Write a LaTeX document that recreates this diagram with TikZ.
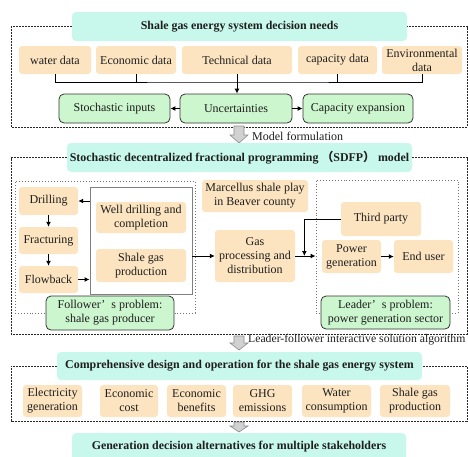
\documentclass[tikz,border=0pt]{standalone}
\usepackage{fontspec}
\setmainfont{Liberation Serif}
\newfontfamily\cjk{Noto Sans CJK SC}
\usetikzlibrary{arrows.meta,calc}
\definecolor{headfill}{RGB}{200,248,236}
\definecolor{orfill}{RGB}{252,228,192}
\definecolor{grfill}{RGB}{204,246,206}
\definecolor{txt}{RGB}{30,30,30}
\tikzset{
  base/.style={inner sep=0pt, align=center, text=txt, font=\fontsize{12}{14}\selectfont},
  headbox/.style={base, fill=headfill, rounded corners=4pt, font=\fontsize{11.9}{14}\selectfont\bfseries},
  orbox/.style={base, fill=orfill, rounded corners=3pt},
  grbox/.style={base, fill=grfill, draw=black!80, line width=0.8pt, rounded corners=5pt},
  frame/.style={draw=black!85, line width=1pt, dash pattern=on 2pt off 1pt},
  dotframe/.style={draw=black!55, line width=0.9pt, dotted},
  conn/.style={draw=black, line width=1pt},
  arr/.style={conn, -{Latex[length=5pt,width=5pt]}},
  bigarrow/.style={fill=black!18, draw=black!45, line width=0.6pt},
}
\newcommand{\mybox}[7]{\node[#2, minimum width={#5-#3}, minimum height={#6-#4}] (#1) at ({(#3+#5)/2},{(#4+#6)/2}) {#7};}
\newcommand{\bigdown}[4]{\filldraw[bigarrow] ({#1-5},#2) -- ({#1+5},#2) -- ({#1+5},{#3-#4}) -- ({#1+9},{#3-#4}) -- (#1,#3) -- ({#1-9},{#3-#4}) -- ({#1-5},{#3-#4}) -- cycle;}
\begin{document}
\begin{tikzpicture}[x=1pt,y=-1pt]
\useasboundingbox (0,0) rectangle (468,456);
% ---------- section 1
\mybox{head1}{headbox}{72}{12}{407}{41}{Shale gas energy system decision needs}
\draw[frame] (head1.west) -- (11,26.5) |- (467,127) |- (head1.east);
\mybox{water}{orbox}{19}{46}{91}{74}{water data}
\mybox{econ}{orbox}{96}{46}{176}{74}{Economic data}
\mybox{tech}{orbox}{182}{46}{292}{74}{Technical data}
\mybox{capd}{orbox}{298}{46}{377}{74}{capacity data}
\mybox{env}{orbox}{382}{46}{462}{74}{Environmental\\data}
\mybox{stoch}{grbox}{59}{94}{170}{123}{Stochastic inputs}
\mybox{unc}{grbox}{180}{94}{292}{123}{Uncertainties}
\mybox{capx}{grbox}{303}{94}{413}{123}{Capacity expansion}
\coordinate (bus) at (237,82);
\draw[conn] (water.south) |- (bus) -| (env.south);
\draw[conn] (econ.south) -- (econ.south |- bus);
\draw[conn] (capd.south) -- (capd.south |- bus);
\draw[arr] (tech.south) -- (tech.south |- unc.north);
\draw[arr] (unc.west) -- (stoch.east);
\draw[arr] (unc.east) -- (capx.west);
% arrow 1
\bigdown{239}{126}{143}{8}
\node[base, anchor=west] (mf) at (252,136) {Model formulation};
% ---------- section 2
\mybox{head2}{headbox}{67}{143}{412}{172}{Stochastic decentralized fractional programming\hspace{3pt}{\cjk （}SDFP{\cjk ）} model}
\draw[frame] (head2.west) -- (11,157.5) |- (467,334) |- (head2.east);
\mybox{fzone}{base,dotframe}{15}{181}{195}{313}{}
\mybox{lzone}{base,dotframe}{316}{180}{458}{313}{}
\mybox{wellgrp}{base,draw=black!50,line width=0.9pt}{90}{187}{192}{294}{}
\mybox{drill}{orbox}{19}{187}{78}{215}{Drilling}
\mybox{frac}{orbox}{19}{227}{78}{254}{Fracturing}
\mybox{flow}{orbox}{19}{266}{78}{293}{Flowback}
\mybox{well}{orbox}{96}{202}{186}{233}{Well drilling and\\completion}
\mybox{sgp}{orbox}{96}{249}{186}{282}{Shale gas\\production}
\mybox{follower}{grbox}{46}{296}{174}{330}{Follower’\hspace{6pt}s problem:\\shale gas producer}
\mybox{marc}{orbox}{202}{180}{308}{212}{Marcellus shale play\\in Beaver county}
\mybox{gas}{orbox}{215}{230}{295}{282}{Gas\\processing and\\distribution}
\mybox{third}{orbox}{341}{202}{421}{236}{Third party}
\mybox{power}{orbox}{322}{240}{381}{273}{Power\\generation}
\mybox{enduser}{orbox}{394}{240}{453}{273}{End user}
\mybox{leader}{grbox}{321}{296}{450}{329}{Leader’\hspace{6pt}s problem:\\power generation sector}
\draw[arr] (drill) -- (frac);
\draw[arr] (frac) -- (flow);
\draw[arr] (flow.east) -- (flow.east -| wellgrp.west);
\draw[arr] (drill.east -| wellgrp.west) -- (drill.east);
\draw[arr] (gas.west -| wellgrp.east) -- (gas.west);
\draw[arr] (gas.east) -- (gas.east -| lzone.west);
\coordinate (tpj) at ($(gas.east)!0.45!(gas.east -| lzone.west)$);
\draw[arr] (third.west) -| (tpj);
\draw[arr] (power) -- (enduser);
% arrow 2
\bigdown{239}{336}{350}{7}
\node[base, anchor=west, font=\fontsize{11.7}{14}\selectfont] (lfs) at (248,340) {Leader-follower interactive solution algorithm};
% ---------- section 3
\mybox{head3}{headbox}{57}{352}{422}{380}{Comprehensive design and operation for the shale gas energy system}
\draw[frame] (head3.west) -- (11,366) |- (467,421) |- (head3.east);
\mybox{elec}{orbox}{23}{385}{82}{417}{Electricity\\generation}
\mybox{ecost}{orbox}{100}{385}{158}{417}{Economic\\cost}
\mybox{eben}{orbox}{167}{385}{226}{417}{Economic\\benefits}
\mybox{ghg}{orbox}{233}{385}{292}{417}{GHG\\emissions}
\mybox{wcons}{orbox}{302}{385}{371}{417}{Water\\consumption}
\mybox{sgp2}{orbox}{380}{385}{450}{417}{Shale gas\\production}
% arrow 3
\bigdown{239}{422}{432}{6}
% ---------- section 4
\mybox{head4}{headbox}{72}{433}{406}{461}{Generation decision alternatives for multiple stakeholders}
\end{tikzpicture}
\end{document}
